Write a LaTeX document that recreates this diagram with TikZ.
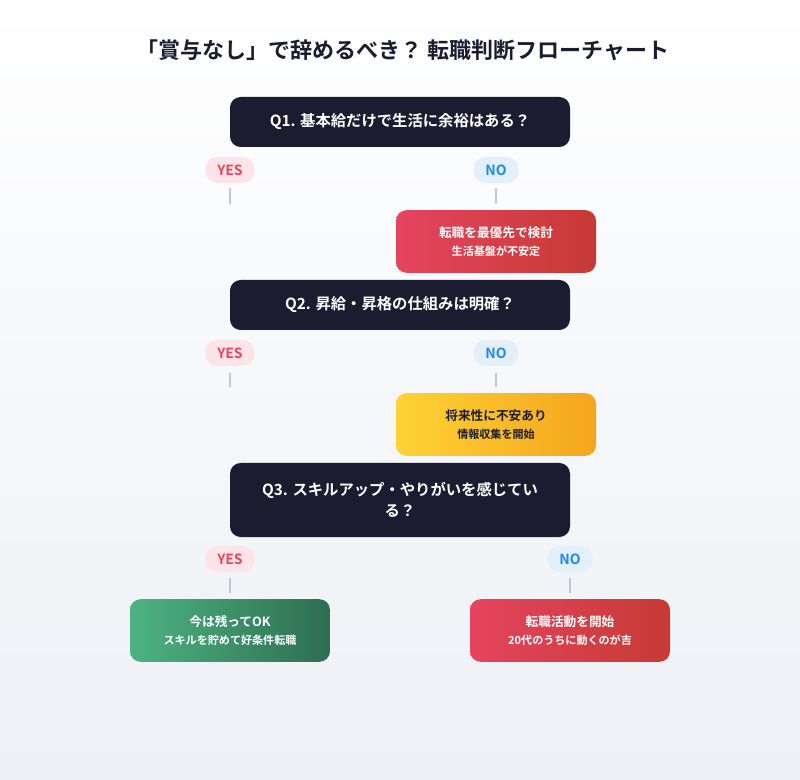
\documentclass[tikz,border=0pt]{standalone}
\usepackage{fontspec}
\setmainfont{Noto Sans CJK JP}[BoldFont={Noto Sans CJK JP Bold}]
\definecolor{qdark}{HTML}{1B1C30}
\definecolor{bgbot}{HTML}{EDF0F5}
\definecolor{yesbg}{HTML}{FDE4E8}
\definecolor{yesfg}{HTML}{E8455E}
\definecolor{nobg}{HTML}{E3F0FC}
\definecolor{nofg}{HTML}{1E88E5}
\definecolor{stub}{HTML}{C4C8CE}
\definecolor{redL}{HTML}{E5445F}
\definecolor{redR}{HTML}{C63A34}
\definecolor{ylwL}{HTML}{FDD335}
\definecolor{ylwR}{HTML}{F5A51C}
\definecolor{grnL}{HTML}{4DB383}
\definecolor{grnR}{HTML}{2E6E50}
\tikzset{
  question/.style={fill=qdark, rounded corners=8pt, text=white, font=\bfseries\fontsize{11.5}{16}\selectfont, align=center, inner sep=0pt},
  pill/.style={rounded corners=9pt, minimum height=19.5pt, inner xsep=9pt, font=\bfseries\fontsize{10.5}{12}\selectfont},
  yes/.style={pill, fill=yesbg, text=yesfg},
  no/.style={pill, fill=nobg, text=nofg},
  result/.style={rounded corners=8pt, minimum width=150pt, minimum height=47pt, align=center, text=white, font=\bfseries\fontsize{9.5}{17}\selectfont},
  small/.style={font=\bfseries\fontsize{8.3}{10}\selectfont},
  stubline/.style={stub, line width=1.2pt},
}
\newcommand{\sub}[1]{{\bfseries\fontsize{8.3}{10}\selectfont #1}}
\begin{document}
\begin{tikzpicture}[x=0.75pt,y=-0.75pt]
  \shade[top color=white, bottom color=bgbot] (0,0) rectangle (800,780);
  \node[font=\bfseries\fontsize{16.5}{20}\selectfont, text=qdark] (title) at (403,50) {「賞与なし」で辞めるべき？ 転職判断フローチャート};

  % Q1
  \node[question, minimum width=255pt, minimum height=37.5pt] (q1) at (400,122) {Q1. 基本給だけで生活に余裕はある？};
  \node[yes] (yes1) at (230,170) {YES};
  \node[no] (no1) at (496,170) {NO};
  \coordinate (y1a) at (230,188); \coordinate (y1b) at (230,204);
  \coordinate (n1a) at (496,188); \coordinate (n1b) at (496,204);
  \draw[stubline] (y1a) -- (y1b);
  \draw[stubline] (n1a) -- (n1b);
  \node[result, left color=redL, right color=redR] (r1) at (496,241.5) {転職を最優先で検討\\[-3pt] \sub{生活基盤が不安定}};

  % Q2
  \node[question, minimum width=255pt, minimum height=37.5pt] (q2) at (400,305) {Q2. 昇給・昇格の仕組みは明確？};
  \node[yes] (yes2) at (230,353) {YES};
  \node[no] (no2) at (496,353) {NO};
  \coordinate (y2a) at (230,373); \coordinate (y2b) at (230,387);
  \coordinate (n2a) at (496,373); \coordinate (n2b) at (496,387);
  \draw[stubline] (y2a) -- (y2b);
  \draw[stubline] (n2a) -- (n2b);
  \node[result, left color=ylwL, right color=ylwR, text=qdark] (r2) at (496,424.5) {将来性に不安あり\\[-3pt] \sub{情報収集を開始}};

  % Q3
  \node[question, minimum width=255pt, minimum height=55.5pt] (q3) at (400,500) {Q3. スキルアップ・やりがいを感じてい\\る？};
  \node[yes] (yes3) at (230,559) {YES};
  \node[no] (no3) at (570,559) {NO};
  \coordinate (y3a) at (230,578); \coordinate (y3b) at (230,593);
  \coordinate (n3a) at (570,578); \coordinate (n3b) at (570,593);
  \draw[stubline] (y3a) -- (y3b);
  \draw[stubline] (n3a) -- (n3b);
  \node[result, left color=grnL, right color=grnR] (r3) at (230,630.5) {今は残ってOK\\[-3pt] \sub{スキルを貯めて好条件転職}};
  \node[result, left color=redL, right color=redR] (r4) at (570,630.5) {転職活動を開始\\[-3pt] \sub{20代のうちに動くのが吉}};
\end{tikzpicture}
\end{document}
